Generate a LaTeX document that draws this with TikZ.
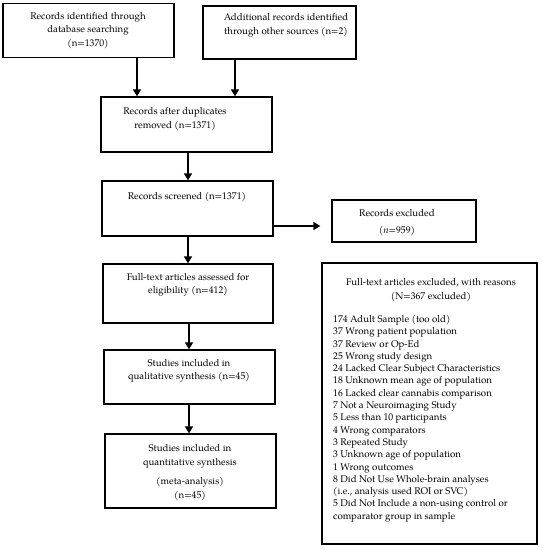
\documentclass[tikz,border=0pt]{standalone}
\usepackage{fontspec}
\setmainfont{TeX Gyre Pagella}
\usetikzlibrary{arrows.meta}
\begin{document}
\begin{tikzpicture}[x=1pt,y=-1pt,
  box/.style={draw=black,line width=1.3pt,inner sep=0pt},
  txt/.style={align=center,inner sep=0pt,font=\fontsize{9.7}{13.5}\selectfont},
  lst/.style={align=left,inner sep=0pt,font=\fontsize{9.7}{12.3}\selectfont},
  arr/.style={line width=1.6pt,-{Triangle[width=8pt,length=7pt]}}]
\useasboundingbox (0,0) rectangle (542,550);
% boxes
\node[box,minimum width=171pt,minimum height=54pt] (b1) at (88.5,30.5) {};
\node[box,minimum width=153pt,minimum height=53pt] (b2) at (279.5,32.5) {};
\node[box,minimum width=171pt,minimum height=55pt] (b3) at (186.5,124.5) {};
\node[box,minimum width=171pt,minimum height=55pt] (b4) at (187.5,208.5) {};
\node[box,minimum width=144pt,minimum height=42pt] (ex) at (404,221) {};
\node[box,minimum width=170pt,minimum height=59pt] (b5) at (188,293.5) {};
\node[box,minimum width=171pt,minimum height=54pt] (b6) at (189.5,377) {};
\node[box,minimum width=171pt,minimum height=74pt] (b7) at (190.5,471) {};
\node[box,minimum width=215pt,minimum height=281pt] (big) at (429.5,403.5) {};
% texts
\node[txt] (t1) at (88,30.5) {Records identified through\\database searching\\(n=1370)};
\node[txt] (t2) at (286,25.5) {Additional records identified\\through other sources (n=2)};
\node[txt] (t3) at (175,119) {Records after duplicates\\removed (n=1371)};
\node[txt] (t4) at (187,197) {Records screened (n=1371)};
\node[txt,font=\fontsize{9.7}{17}\selectfont] (tex) at (397,222.5) {Records excluded\\(\textit{n}=959)};
\node[txt] (t5) at (188,285) {Full-text articles assessed for\\eligibility (n=412)};
\node[txt] (t6) at (189,371) {Studies included in\\qualitative synthesis (n=45)};
\node[txt] (t7) at (190,472.5) {Studies included in\\quantitative synthesis\\[6pt](meta-analysis)\\(n=45)};
\node[txt] (th) at (431,290) {Full-text articles excluded, with reasons\\(N=367 excluded)};
\node[lst,anchor=north west] (tl) at (333,315) {174 Adult Sample (too old)\\
37 Wrong patient population\\
37 Review or Op-Ed\\
25 Wrong study design\\
24 Lacked Clear Subject Characteristics\\
18 Unknown mean age of population\\
16 Lacked clear cannabis comparison\\
7 Not a Neuroimaging Study\\
5 Less than 10 participants\\
4 Wrong comparators\\
3 Repeated Study\\
3 Unknown age of population\\
1 Wrong outcomes\\
8 Did Not Use Whole-brain analyses\\
(i.e., analysis used ROI or SVC)\\
5 Did Not Include a non-using control or\\
comparator group in sample};
% connectors
\coordinate (ca) at (137,0);
\coordinate (cb) at (235,0);
\coordinate (cc) at (188,0);
\coordinate (cd) at (189,0);
\coordinate (cy) at (0,226);
\draw[arr] (b1.south -| ca) -- (b3.north -| ca);
\draw[arr] (b2.south -| cb) -- (b3.north -| cb);
\draw[arr] (b3.south -| cc) -- (b4.north -| cc);
\draw[arr] (b4.south -| cc) -- (b5.north -| cc);
\draw[arr] (b5.south -| cd) -- (b6.north -| cd);
\draw[arr] (b6.south -| cd) -- (b7.north -| cd);
\draw[arr,shorten >=11pt] (b4.east |- cy) -- (ex.west |- cy);
\end{tikzpicture}
\end{document}
